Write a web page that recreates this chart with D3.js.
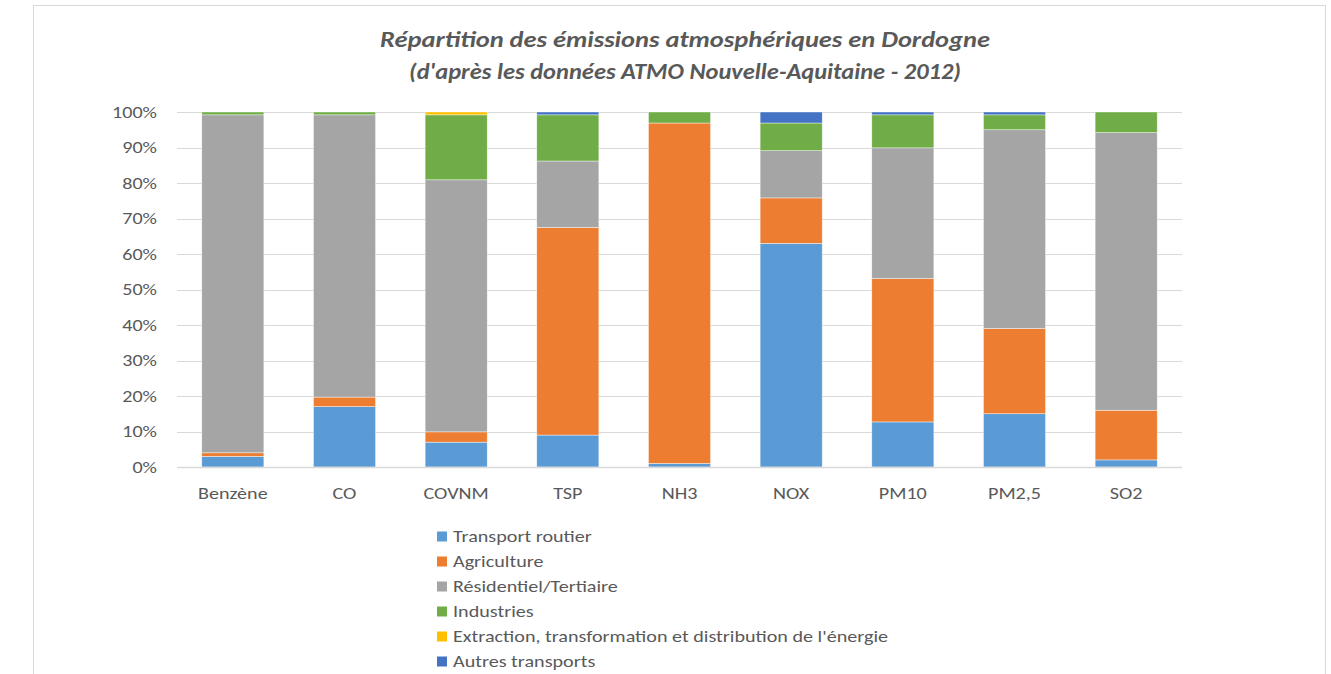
<!DOCTYPE html>
<html>
<head>
<meta charset="utf-8">
<script src="https://cdn.jsdelivr.net/npm/d3@7"></script>
<style>
  html, body { margin: 0; padding: 0; background: #fff; }
  svg { display: block; }
</style>
</head>
<body>
<svg id="chart" width="1331" height="674"></svg>
<script>
// Pollutants shown along the x axis
const categories = ["Benzène", "CO", "COVNM", "TSP", "NH3", "NOX", "PM10", "PM2,5", "SO2"];

// Emission sources (stack order, bottom to top)
const sources = [
  "Transport routier",
  "Agriculture",
  "Résidentiel/Tertiaire",
  "Industries",
  "Extraction, transformation et distribution de l'énergie",
  "Autres transports"
];

// Share of each source per pollutant (%)
const transportRoutier = [3.0, 17.0, 7.0, 9.0, 1.0, 63.0, 12.7, 15.0, 2.0];
const agriculture      = [1.0, 2.7, 2.9, 58.5, 95.9, 12.8, 40.4, 24.0, 14.0];
const residentiel      = [95.2, 79.5, 71.0, 18.7, 0.0, 13.3, 36.8, 56.0, 78.2];
const industries       = [0.8, 0.8, 18.3, 13.0, 3.1, 7.8, 9.3, 4.2, 5.8];
const extraction       = [0.0, 0.0, 0.8, 0.0, 0.0, 0.0, 0.0, 0.0, 0.0];
const autresTransports = [0.0, 0.0, 0.0, 0.8, 0.0, 3.1, 0.8, 0.8, 0.0];

const yTicks = [0, 10, 20, 30, 40, 50, 60, 70, 80, 90, 100];

const colors = ["#5B9BD5", "#ED7D31", "#A5A5A5", "#70AD47", "#FFC000", "#4472C4"];

const seriesValues = [transportRoutier, agriculture, residentiel, industries, extraction, autresTransports];

// Build row objects for d3.stack
const rows = categories.map((c, i) => {
  const r = { cat: c };
  sources.forEach((s, k) => { r[s] = seriesValues[k][i]; });
  return r;
});

const svg = d3.select("#chart");
const textColor = "#595959";
const font = "Carlito, Calibri, 'Open Sans', sans-serif";
const labelSize = "16.5px";
const stretch = 1.22;

// Widen a text element horizontally around its own anchor point
function widen(sel) {
  sel.each(function () {
    const t = d3.select(this);
    const tx = +t.attr("x") || 0;
    const ty = +t.attr("y") || 0;
    t.attr("x", 0).attr("y", 0)
      .attr("transform", `translate(${tx},${ty}) scale(${stretch},1)`);
  });
}

// Outer chart frame
svg.append("rect")
  .attr("x", 33.5).attr("y", 5.5)
  .attr("width", 1292).attr("height", 700)
  .attr("fill", "#fff")
  .attr("stroke", "#d9d9d9").attr("stroke-width", 1);

const margin = { left: 177, right: 1182, top: 112, bottom: 467 };

const x = d3.scaleBand()
  .domain(categories)
  .range([margin.left, margin.right])
  .paddingInner(0.444)
  .paddingOuter(0.222);

const y = d3.scaleLinear().domain([0, 100]).range([margin.bottom, margin.top]);

// Gridlines
svg.append("g")
  .selectAll("line")
  .data(yTicks.filter(t => t > 0))
  .join("line")
  .attr("x1", margin.left).attr("x2", margin.right)
  .attr("y1", d => Math.round(y(d)) + 0.5).attr("y2", d => Math.round(y(d)) + 0.5)
  .attr("stroke", "#d9d9d9").attr("stroke-width", 1);

// Y axis labels
const yAxis = d3.axisLeft(y).tickValues(yTicks).tickFormat(d => d + "%").tickSize(0).tickPadding(20);
const yg = svg.append("g").attr("transform", `translate(${margin.left},0)`).call(yAxis);
yg.select(".domain").remove();
yg.selectAll("text")
  .attr("fill", textColor)
  .style("font-family", font)
  .style("font-size", labelSize)
  .call(widen);

// Stacked bars
const stack = d3.stack().keys(sources);
const stacked = stack(rows);

svg.append("g")
  .selectAll("g")
  .data(stacked)
  .join("g")
  .attr("fill", (d, i) => colors[i])
  .selectAll("rect")
  .data(d => d)
  .join("rect")
  .attr("x", d => x(d.data.cat))
  .attr("width", x.bandwidth())
  .attr("y", d => y(d[1]))
  .attr("height", d => Math.max(0, y(d[0]) - y(d[1])))
  .attr("stroke", "#ffffff")
  .attr("stroke-width", d => (d[1] - d[0]) > 0 ? 0.6 : 0)
  .attr("stroke-opacity", 0.7);

// X axis baseline
svg.append("line")
  .attr("x1", margin.left).attr("x2", margin.right)
  .attr("y1", margin.bottom + 0.5).attr("y2", margin.bottom + 0.5)
  .attr("stroke", "#d9d9d9").attr("stroke-width", 1.5);

// X axis labels
const xAxis = d3.axisBottom(x).tickSize(0).tickPadding(20);
const xg = svg.append("g").attr("transform", `translate(0,${margin.bottom})`).call(xAxis);
xg.select(".domain").remove();
xg.selectAll("text")
  .attr("fill", textColor)
  .style("font-family", font)
  .style("font-size", labelSize)
  .call(widen);

// Title
const title = svg.append("g")
  .attr("fill", textColor)
  .style("font-family", font)
  .style("font-style", "italic")
  .style("font-weight", "bold")
  .style("font-size", "23px")
  .attr("text-anchor", "middle");
title.append("text").attr("x", 685).attr("y", 47)
  .attr("textLength", 610).attr("lengthAdjust", "spacingAndGlyphs")
  .text("Répartition des émissions atmosphériques en Dordogne");
title.append("text").attr("x", 685).attr("y", 79)
  .attr("textLength", 552).attr("lengthAdjust", "spacingAndGlyphs")
  .text("(d'après les données ATMO Nouvelle-Aquitaine - 2012)");

// Legend
const legend = svg.append("g").attr("transform", "translate(437,530)");
const li = legend.selectAll("g")
  .data(sources)
  .join("g")
  .attr("transform", (d, i) => `translate(0,${i * 25})`);
li.append("rect")
  .attr("x", 0).attr("y", 1.5)
  .attr("width", 10).attr("height", 10)
  .attr("fill", (d, i) => colors[i]);
li.append("text")
  .attr("x", 16).attr("y", 12)
  .attr("fill", textColor)
  .style("font-family", font)
  .style("font-size", labelSize)
  .text(d => d)
  .call(widen);
</script>
</body>
</html>
